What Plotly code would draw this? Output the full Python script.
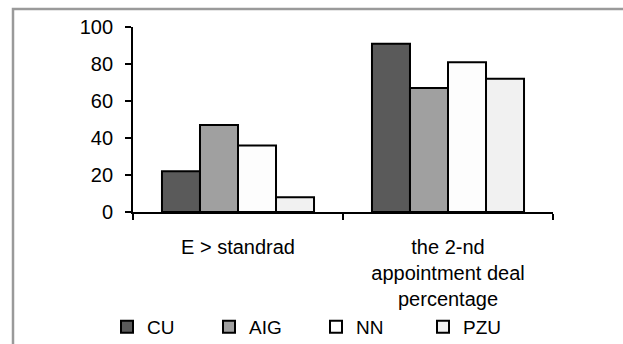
import plotly.graph_objects as go

categories = ["E > standrad", "the 2-nd<br>appointment deal<br>percentage"]
series_names = ["CU", "AIG", "NN", "PZU"]
cu = [22, 91]
aig = [47, 67]
nn = [36, 81]
pzu = [8, 72]
values = [cu, aig, nn, pzu]
colors = ["#5a5a5a", "#a0a0a0", "#fdfdfd", "#f1f1f1"]
y_ticks = [0, 20, 40, 60, 80, 100]

W, H = 623, 344
L, R, T, B = 133, 70, 27, 132
pw = W - L - R
ph = H - T - B

font = dict(family="Arial, Liberation Sans, sans-serif", size=20, color="#000000")
legend_font = dict(family="Arial, Liberation Sans, sans-serif", size=19, color="#000000")

fig = go.Figure()
legend_px = [107, 209, 316, 423]
for i, (name, vals, col) in enumerate(zip(series_names, values, colors)):
    lg = "legend" if i == 0 else f"legend{i+1}"
    fig.add_trace(go.Bar(
        x=categories, y=vals, name=name,
        marker=dict(color=col, line=dict(color="#000000", width=2)),
        legend=lg,
    ))

layout_legends = {}
for i, px in enumerate(legend_px):
    key = "legend" if i == 0 else f"legend{i+1}"
    layout_legends[key] = dict(
        xref="container", yref="container",
        x=px / W, y=(H - 327) / H, xanchor="left", yanchor="middle",
        orientation="h", font=legend_font, bgcolor="rgba(0,0,0,0)", borderwidth=0,
        itemclick=False, itemdoubleclick=False,
    )

fig.update_layout(
    width=W, height=H,
    margin=dict(l=L, r=R, t=T, b=B, autoexpand=False),
    paper_bgcolor="#ffffff", plot_bgcolor="#ffffff",
    font=font,
    barmode="group", bargap=0.276, bargroupgap=0,
    showlegend=True,
    **layout_legends,
)

fig.update_yaxes(
    range=[0, 100], tickvals=y_ticks, ticks="outside", ticklen=6, tickwidth=1.8,
    tickcolor="#000000", showline=True, linecolor="#000000", linewidth=1.8,
    showgrid=False, zeroline=False, tickfont=font, ticklabelstandoff=8,
    automargin=False,
)
fig.update_xaxes(
    type="category", range=[-0.5, 1.5], ticks="outside", tickson="boundaries",
    ticklen=6, tickwidth=1.8, tickcolor="#000000", showline=True,
    linecolor="#000000", linewidth=1.8, showgrid=False, tickfont=font,
    ticklabelstandoff=16, automargin=False,
)
fig.add_shape(type="rect", xref="paper", yref="paper",
              x0=(13 - L) / pw, x1=(640 - L) / pw,
              y0=(T + ph - 360) / ph, y1=(T + ph - 9) / ph,
              line=dict(color="#9a9a9a", width=2.5), fillcolor="rgba(0,0,0,0)",
              layer="below")

fig.write_html("out.html")
